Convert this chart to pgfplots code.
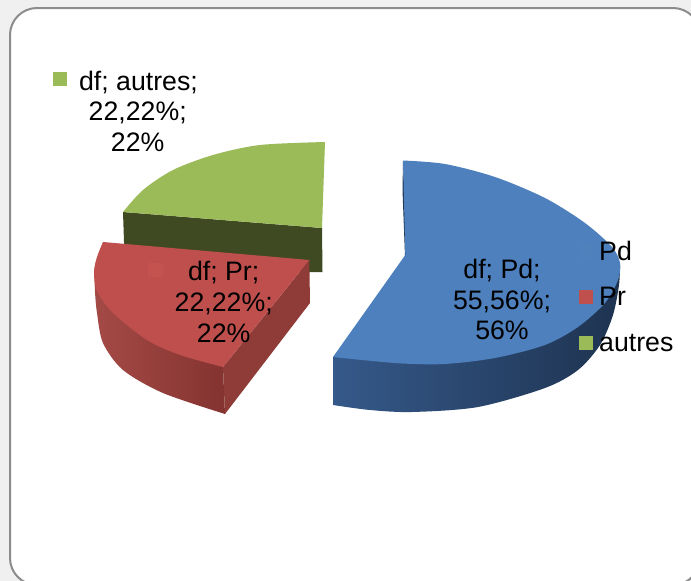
\documentclass[border=0pt]{standalone}
\usepackage{fontspec}
\setmainfont{Liberation Sans}
\usepackage{pgfplots}
\pgfplotsset{compat=1.18}
\definecolor{pageback}{HTML}{F0F0F0}
\definecolor{frameline}{HTML}{8C8C8C}
\definecolor{bluetop}{HTML}{4D80BC}
\definecolor{bluekey}{HTML}{4F81BD}
\definecolor{blueA}{HTML}{35598A}
\definecolor{blueB}{HTML}{243C5E}
\definecolor{blueC}{HTML}{1E3350}
\definecolor{bluecut}{HTML}{1F3552}
\definecolor{redtop}{HTML}{BE4F4C}
\definecolor{redkey}{HTML}{C4524F}
\definecolor{redA}{HTML}{A44A46}
\definecolor{redB}{HTML}{843330}
\definecolor{redcut}{HTML}{8F3C38}
\definecolor{greentop}{HTML}{9BBB59}
\definecolor{greencut}{HTML}{404A22}
\newcommand{\labfont}{\fontsize{26.7pt}{30.6pt}\selectfont}
\tikzset{lab/.style={font=\labfont, text=black, inner sep=0pt, anchor=base},
         leg/.style={font=\labfont, text=black, inner sep=0pt, anchor=base west}}
\begin{document}
\begin{tikzpicture}
\begin{axis}[
  width=691pt, height=581pt, scale only axis,
  xmin=0, xmax=691, ymin=0, ymax=581, y dir=reverse,
  axis lines=none, clip=true,
]
% page and rounded chart frame
\addplot[draw=none, fill=pageback] coordinates {(0,0)(691,0)(691,581)(0,581)} --cycle;
\addplot[draw=frameline, line width=2pt, fill=white, rounded corners=27pt]
  coordinates {(10,8)(700,8)(700,585)(10,585)} --cycle;

% slice "autres"
\addplot[draw=none, fill=greencut] coordinates {(123,212)(322,228)(322.5,272)(125,272)} --cycle;
\addplot[draw=none, fill=greentop, smooth] coordinates {
  (123,212)(143,190)(173,170)(213,155)(260,145)(325,142)}
  -- (axis cs:322,228) -- cycle;

% slice "Pr"
\addplot[draw=none, left color=redA, right color=redB, smooth] coordinates {
  (225,414)(163,393)(123,370)(103,343)(97,313)(95,292)(94.5,276)}
  -- (axis cs:223,367) -- cycle;
\addplot[draw=none, fill=redcut] coordinates {(223,367)(309.3,260)(310,303)(225,414)} --cycle;
\addplot[draw=none, fill=redtop, smooth] coordinates {
  (223,367)(180,355)(147,340)(113,313)(97,291)(94,272)(97,257)(103,242)}
  -- (axis cs:309.3,260) -- cycle;

% slice "Pd"
\addplot[draw=none, fill=bluecut] coordinates {(403,161)(407,256)(405,256)(402.5,190)} --cycle;
\addplot[draw=none, left color=blueA, middle color=blueB, right color=blueC, smooth] coordinates {
  (333,405)(370,410)(412,412)(478,407)(545,388)(578,370)(600,345)(613,315)(619,285)(620,265)}
  -- (axis cs:333,357) -- cycle;
\addplot[draw=none, fill=bluetop, smooth] coordinates {
  (403,160.5)(445,164)(495,177)(545,198)(585,223)(612,247)(620,263)(618,280)
  (605,303)(578,327)(545,345)(495,358)(445,364)(402,363.5)(362,360)(333,357)}
  -- (axis cs:405.3,255) -- cycle;

% colour keys
\addplot[draw=none, fill=greentop] coordinates {(53,72)(67,72)(67,86)(53,86)} --cycle;
\addplot[draw=none, fill=redkey] coordinates {(148,263)(163,263)(163,277)(148,277)} --cycle;
\addplot[draw=none, fill=bluekey] coordinates {(579,244)(593,244)(593,258)(579,258)} --cycle;
\addplot[draw=none, fill=redtop!70!redkey] coordinates {(579,290)(593,290)(593,304)(579,304)} --cycle;
\addplot[draw=none, fill=greentop] coordinates {(579,336)(593,336)(593,350)(579,350)} --cycle;

% slice labels
\node[lab] at (axis cs:138.5,90) {df; autres;};
\node[lab] at (axis cs:137.7,120.5) {22,22\%;};
\node[lab] at (axis cs:137.7,151) {22\%};
\node[lab] at (axis cs:223.7,280) {df; Pr;};
\node[lab] at (axis cs:223.7,311) {22,22\%;};
\node[lab] at (axis cs:223.7,342) {22\%};
\node[lab] at (axis cs:502,278) {df; Pd;};
\node[lab] at (axis cs:502,309) {55,56\%;};
\node[lab] at (axis cs:502,339.5) {56\%};

% legend entries
\node[leg] at (axis cs:599,260) {Pd};
\node[leg] at (axis cs:599,305.5) {Pr};
\node[leg] at (axis cs:599,351) {autres};
\end{axis}
\end{tikzpicture}
\end{document}
